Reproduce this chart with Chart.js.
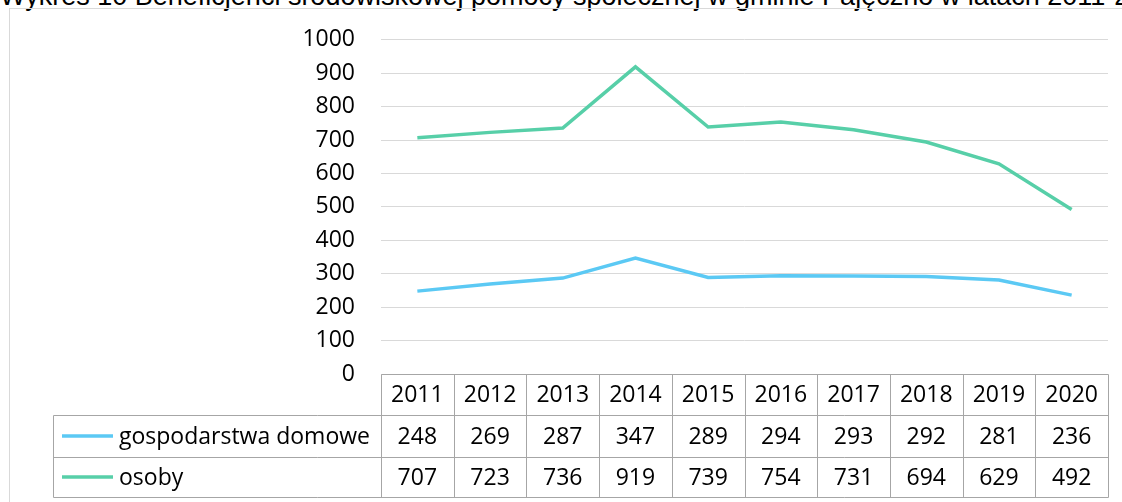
<!DOCTYPE html>
<html>
<head>
<meta charset="utf-8">
<script src="https://cdn.jsdelivr.net/npm/chart.js@4"></script>
<style>
  html, body { margin:0; padding:0; background:#fff; }
  #wrap { position:relative; width:1122px; height:502px; overflow:hidden; background:#fff; }
  #title { position:absolute; left:0; top:-17px; font:27px 'Liberation Sans', Arial, sans-serif; line-height:27px; white-space:nowrap; color:#000; }
  #frame { position:absolute; left:9px; top:8px; width:1300px; height:700px; border:1px solid #d9d9d9; }
  #c { position:absolute; left:0; top:0; }
</style>
</head>
<body>
<div id="wrap">
  <div id="title">Wykres 10 Beneficjenci środowiskowej pomocy społecznej w gminie Pajęczno w latach 2011-2020</div>
  <div id="frame"></div>
  <canvas id="c" width="1122" height="502"></canvas>
</div>
<script>
const years = ['2011','2012','2013','2014','2015','2016','2017','2018','2019','2020'];
const households = [248, 269, 287, 347, 289, 294, 293, 292, 281, 236];
const persons = [707, 723, 736, 919, 739, 754, 731, 694, 629, 492];
const seriesNames = ['gospodarstwa domowe', 'osoby'];
const seriesColors = ['#5BC9F4', '#57CFA8'];
const yMin = 0, yMax = 1000, yStep = 100;

const FONT = "'Open Sans', 'Liberation Sans', sans-serif";
const FSIZE = 23;

const tablePlugin = {
  id: 'dataTable',
  afterDraw(chart) {
    const ctx = chart.ctx;
    const area = chart.chartArea;
    const n = chart.data.labels.length;
    const colW = (area.right - area.left) / n;
    const rows = [area.bottom, area.bottom + 41, area.bottom + 83, area.bottom + 123];
    const legendLeft = 53;
    const px = v => Math.round(v) + 0.5;
    ctx.save();
    ctx.strokeStyle = '#a6a6a6';
    ctx.lineWidth = 1;
    const ln = (x1, y1, x2, y2) => { ctx.beginPath(); ctx.moveTo(px(x1), px(y1)); ctx.lineTo(px(x2), px(y2)); ctx.stroke(); };
    ln(area.left, rows[0], area.right, rows[0]);
    for (let r = 1; r < 4; r++) ln(legendLeft, rows[r], area.right, rows[r]);
    ln(legendLeft, rows[1], legendLeft, rows[3]);
    for (let i = 0; i <= n; i++) ln(area.left + i * colW, rows[0], area.left + i * colW, rows[3]);

    ctx.fillStyle = '#000';
    ctx.font = FSIZE + 'px ' + FONT;
    ctx.textBaseline = 'middle';
    ctx.textAlign = 'center';
    const xs = chart.scales.x;
    chart.data.labels.forEach((lab, i) => {
      ctx.fillText(lab, xs.getPixelForValue(i), (rows[0] + rows[1]) / 2 + 1);
    });
    chart.data.datasets.forEach((ds, d) => {
      const yc = (rows[d + 1] + rows[d + 2]) / 2 + 1;
      ds.data.forEach((v, i) => {
        ctx.textAlign = 'center';
        ctx.fillText(String(v), xs.getPixelForValue(i), yc);
      });
      ctx.textAlign = 'left';
      ctx.fillText(ds.label, 119, yc);
      ctx.strokeStyle = ds.borderColor;
      ctx.lineWidth = 3.5;
      ctx.beginPath();
      ctx.moveTo(62, yc - 1);
      ctx.lineTo(113, yc - 1);
      ctx.stroke();
    });
    ctx.restore();
  }
};

new Chart(document.getElementById('c'), {
  type: 'line',
  data: {
    labels: years,
    datasets: [
      { label: seriesNames[0], data: households, borderColor: seriesColors[0], backgroundColor: seriesColors[0], borderWidth: 3.5, pointRadius: 0, tension: 0, fill: false },
      { label: seriesNames[1], data: persons, borderColor: seriesColors[1], backgroundColor: seriesColors[1], borderWidth: 3.5, pointRadius: 0, tension: 0, fill: false }
    ]
  },
  options: {
    responsive: false,
    animation: false,
    devicePixelRatio: 1,
    layout: { padding: { top: 34, right: 14, left: 0, bottom: 0 } },
    plugins: { legend: { display: false }, tooltip: { enabled: false }, title: { display: false } },
    scales: {
      x: {
        offset: true,
        grid: { display: false, drawTicks: false },
        border: { display: false },
        ticks: { display: false },
        afterFit(scale) { scale.height = 128; }
      },
      y: {
        min: yMin, max: yMax,
        grid: { color: '#d9d9d9', lineWidth: 1, drawTicks: false },
        border: { display: false },
        ticks: { stepSize: yStep, padding: 26, color: '#000', font: { family: FONT, size: FSIZE }, callback: v => String(v) },
        afterFit(scale) { scale.width = 381; }
      }
    }
  },
  plugins: [tablePlugin]
});
</script>
</body>
</html>
